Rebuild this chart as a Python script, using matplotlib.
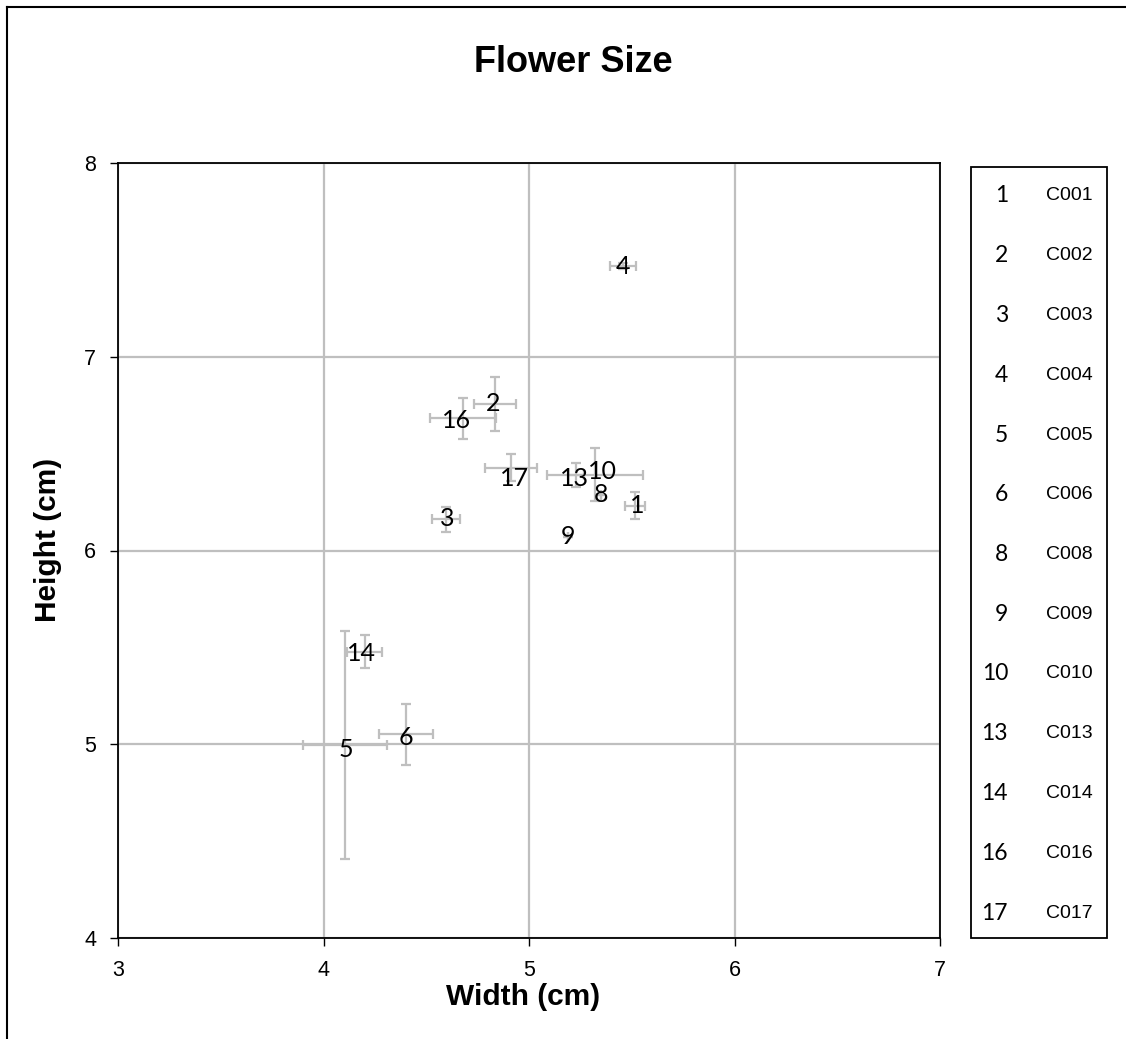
import matplotlib
matplotlib.use("Agg")
import matplotlib.pyplot as plt
from matplotlib.lines import Line2D
from matplotlib.patches import Rectangle

# ---- data ----
labels = ["1", "2", "3", "4", "5", "6", "8", "9", "10", "13", "14", "16", "17"]
codes = ["C001", "C002", "C003", "C004", "C005", "C006", "C008", "C009",
         "C010", "C013", "C014", "C016", "C017"]
width_cm = [5.517, 4.833, 4.595, 5.456, 4.103, 4.400, 5.352, 5.191, 5.323, 5.229, 4.200, 4.680, 4.911]
height_cm = [6.231, 6.756, 6.161, 7.468, 4.996, 5.051, 6.287, 6.071, 6.391, 6.390, 5.478, 6.682, 6.427]
width_err = [0.049, 0.102, 0.068, 0.063, 0.204, 0.131, 0.0, 0.0, 0.234, 0.040, 0.086, 0.160, 0.127]
height_err = [0.070, 0.138, 0.065, 0.017, 0.586, 0.157, 0.0, 0.0, 0.136, 0.060, 0.087, 0.105, 0.069]
x_ticks = [3, 4, 5, 6, 7]
y_ticks = [4, 5, 6, 7, 8]

# label nudges (pixels) - styling only
label_offsets = [(2, 0), (-2, 1), (1, 1), (0, 0), (1, -4), (0, -3), (0, 0), (0, 0),
                 (7, 3), (-2, -4), (-3, -2), (-7, -2), (4, -11)]

W, H = 1126, 1039
fig = plt.figure(figsize=(W / 100, H / 100), dpi=100)

L, R, T, B = 118, 940, 163, 938
ax = fig.add_axes([L / W, 1 - B / H, (R - L) / W, (B - T) / H])
ax.set_xlim(3, 7)
ax.set_ylim(4, 8)
ax.set_xticks(x_ticks)
ax.set_yticks(y_ticks)
ax.grid(True, color="#BFBFBF", lw=1.6)
ax.set_axisbelow(True)
for s in ax.spines.values():
    s.set_color("black")
    s.set_linewidth(1.3)
ax.tick_params(direction="out", length=5.8, width=1.0, color="black",
               labelsize=15.5, pad=10)
ax.tick_params(axis="x", pad=10)
for t in ax.get_xticklabels() + ax.get_yticklabels():
    t.set_fontfamily(["Liberation Sans", "DejaVu Sans"])

ax.errorbar(width_cm, height_cm, xerr=width_err, yerr=height_err, fmt="none",
            ecolor="#BFBFBF", elinewidth=1.6, capsize=3.6, capthick=1.6, zorder=3)

for lab, xv, yv, off in zip(labels, width_cm, height_cm, label_offsets):
    ax.annotate(lab, (xv, yv), xytext=off, textcoords="offset pixels",
                ha="center", va="center", fontsize=18,
                family=["Lato", "DejaVu Sans"], color="black", zorder=4)

ax.set_xlabel("Width (cm)", fontsize=21.5, fontweight="bold",
              family=["Liberation Sans", "DejaVu Sans"], va="center")
ax.xaxis.set_label_coords((523 - L) / (R - L), (B - 997) / (B - T))
ax.set_ylabel("Height (cm)", fontsize=21.5, fontweight="bold",
              family=["Liberation Sans", "DejaVu Sans"], va="center")
ax.yaxis.set_label_coords((48 - L) / (R - L), (B - 540) / (B - T))

fig.text(573 / W, 1 - 62 / H, "Flower Size", ha="center", va="center",
         fontsize=26, fontweight="bold", family=["Liberation Sans", "DejaVu Sans"])

# outer border (left and top visible)
fig.add_artist(Line2D([7 / W, 7 / W], [0, 1 - 7 / H], color="black", lw=1.5))
fig.add_artist(Line2D([7 / W, 1], [1 - 7 / H, 1 - 7 / H], color="black", lw=1.5))

# legend box
lx0, lx1, ly0, ly1 = 971, 1107, 167, 938
fig.add_artist(Rectangle((lx0 / W, 1 - ly1 / H), (lx1 - lx0) / W, (ly1 - ly0) / H,
                         transform=fig.transFigure, fill=False, ec="black", lw=1.3))
row0, step = 196, 59.75
for i, (lab, code) in enumerate(zip(labels, codes)):
    yp = 1 - (row0 + i * step) / H
    fig.text(1008 / W, yp, lab, ha="right", va="center", fontsize=16.5,
             family=["Lato", "DejaVu Sans"])
    fig.text(1046 / W, yp, code, ha="left", va="center", fontsize=14,
             family=["Liberation Sans Narrow", "Liberation Sans", "DejaVu Sans"])

fig.savefig("out.png", dpi=100)
